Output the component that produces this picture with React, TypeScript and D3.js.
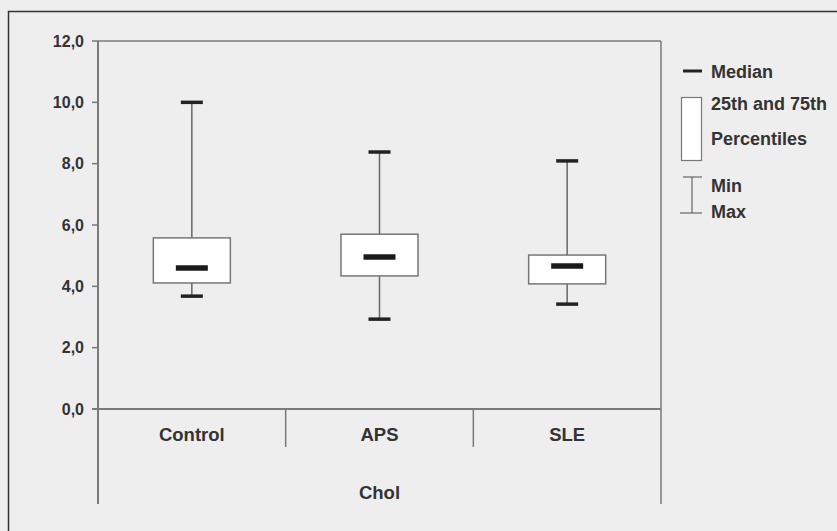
import React, { useEffect, useRef } from 'react'
import * as d3 from 'd3'

// Box plot data (Chol)
const categories = ['Control', 'APS', 'SLE']
const mins = [3.68, 2.93, 3.42]
const q1s = [4.11, 4.34, 4.08]
const medians = [4.6, 4.96, 4.66]
const q3s = [5.58, 5.7, 5.02]
const maxs = [10.0, 8.38, 8.09]
const yTicks = [0, 2, 4, 6, 8, 10, 12]
const groupLabel = 'Chol'
const legendLabels = ['Median', '25th and 75th', 'Percentiles', 'Min', 'Max']

const W = 837
const H = 531
const FONT = '"Liberation Sans", Arial, sans-serif'

function App() {
  const ref = useRef<SVGSVGElement>(null)

  useEffect(() => {
    const svg = d3.select(ref.current)
    svg.selectAll('*').remove()

    const plot = { left: 98, right: 661, top: 41, bottom: 409 }

    svg.append('rect').attr('width', W).attr('height', H).attr('fill', '#eeeeee')
    svg.append('rect')
      .attr('x', 8.5).attr('y', 11.5).attr('width', W + 10).attr('height', H + 10)
      .attr('fill', 'none').attr('stroke', '#333').attr('stroke-width', 1.5)

    const y = d3.scaleLinear().domain([0, 12]).range([plot.bottom, plot.top])
    const x = d3.scaleBand().domain(categories).range([plot.left, plot.right])

    const axisColor = '#7a7a7a'
    const g = svg.append('g')

    // frame lines of plot area
    g.append('line').attr('x1', plot.left).attr('x2', plot.right).attr('y1', plot.top).attr('y2', plot.top)
      .attr('stroke', axisColor).attr('stroke-width', 1.5)
    g.append('line').attr('x1', plot.right).attr('x2', plot.right).attr('y1', plot.top).attr('y2', 504)
      .attr('stroke', axisColor).attr('stroke-width', 1.5)
    g.append('line').attr('x1', plot.left).attr('x2', plot.left).attr('y1', plot.top).attr('y2', 504)
      .attr('stroke', axisColor).attr('stroke-width', 2)
    g.append('line').attr('x1', plot.left - 6).attr('x2', plot.right).attr('y1', plot.bottom).attr('y2', plot.bottom)
      .attr('stroke', axisColor).attr('stroke-width', 2)

    // category dividers
    categories.slice(1).forEach(c => {
      g.append('line').attr('x1', x(c)!).attr('x2', x(c)!).attr('y1', plot.bottom).attr('y2', 447)
        .attr('stroke', axisColor).attr('stroke-width', 1.5)
    })

    // y ticks
    yTicks.forEach(t => {
      g.append('line').attr('x1', plot.left - 6).attr('x2', plot.left).attr('y1', y(t)).attr('y2', y(t))
        .attr('stroke', axisColor).attr('stroke-width', 1.5)
      g.append('text').attr('x', 84).attr('y', y(t)).attr('dy', '0.36em')
        .attr('text-anchor', 'end').attr('font-family', FONT).attr('font-weight', 'bold')
        .attr('font-size', 16).attr('fill', '#333')
        .text(t.toFixed(1).replace('.', ','))
    })

    // category labels
    categories.forEach(c => {
      g.append('text').attr('x', x(c)! + x.bandwidth() / 2).attr('y', 441)
        .attr('text-anchor', 'middle').attr('font-family', FONT).attr('font-weight', 'bold')
        .attr('font-size', 18.5).attr('fill', '#333').text(c)
    })
    g.append('text').attr('x', (plot.left + plot.right) / 2).attr('y', 499)
      .attr('text-anchor', 'middle').attr('font-family', FONT).attr('font-weight', 'bold')
      .attr('font-size', 18.5).attr('fill', '#333').text(groupLabel)

    // boxes
    const boxW = 77
    const capW = 22
    const medW = 32
    categories.forEach((c, i) => {
      const cx = x(c)! + x.bandwidth() / 2
      g.append('line').attr('x1', cx).attr('x2', cx).attr('y1', y(maxs[i])).attr('y2', y(mins[i]))
        .attr('stroke', '#666').attr('stroke-width', 1.5)
      g.append('rect').attr('x', cx - boxW / 2).attr('y', y(q3s[i]))
        .attr('width', boxW).attr('height', y(q1s[i]) - y(q3s[i]))
        .attr('fill', '#fff').attr('stroke', '#777').attr('stroke-width', 1.5)
      g.append('line').attr('x1', cx - medW / 2).attr('x2', cx + medW / 2)
        .attr('y1', y(medians[i])).attr('y2', y(medians[i]))
        .attr('stroke', '#1a1a1a').attr('stroke-width', 5.5)
      ;[mins[i], maxs[i]].forEach(v => {
        g.append('line').attr('x1', cx - capW / 2).attr('x2', cx + capW / 2)
          .attr('y1', y(v)).attr('y2', y(v))
          .attr('stroke', '#222').attr('stroke-width', 3.5)
      })
    })

    // legend
    const lg = svg.append('g')
    const textAttrs = (t: d3.Selection<SVGTextElement, unknown, null, undefined>) =>
      t.attr('font-family', FONT).attr('font-weight', 'bold').attr('font-size', 18).attr('fill', '#333')
    lg.append('line').attr('x1', 683).attr('x2', 702).attr('y1', 71).attr('y2', 71)
      .attr('stroke', '#222').attr('stroke-width', 3)
    textAttrs(lg.append('text').attr('x', 711).attr('y', 78).text(legendLabels[0]))
    lg.append('rect').attr('x', 681.5).attr('y', 97.5).attr('width', 20).attr('height', 63)
      .attr('fill', '#fff').attr('stroke', '#777').attr('stroke-width', 1.2)
    textAttrs(lg.append('text').attr('x', 711).attr('y', 110).text(legendLabels[1]))
    textAttrs(lg.append('text').attr('x', 711).attr('y', 145).text(legendLabels[2]))
    lg.append('line').attr('x1', 683).attr('x2', 702).attr('y1', 177).attr('y2', 177).attr('stroke', '#666').attr('stroke-width', 1.2)
    lg.append('line').attr('x1', 692).attr('x2', 692).attr('y1', 177).attr('y2', 213).attr('stroke', '#666').attr('stroke-width', 1.2)
    lg.append('line').attr('x1', 680).attr('x2', 702).attr('y1', 213).attr('y2', 213).attr('stroke', '#666').attr('stroke-width', 1.2)
    textAttrs(lg.append('text').attr('x', 711).attr('y', 192).text(legendLabels[3]))
    textAttrs(lg.append('text').attr('x', 711).attr('y', 218).text(legendLabels[4]))
  }, [])

  return (
    <svg ref={ref} width={W} height={H}
      style={{ position: 'absolute', left: 0, top: 0, display: 'block' }} />
  )
}

export default App
